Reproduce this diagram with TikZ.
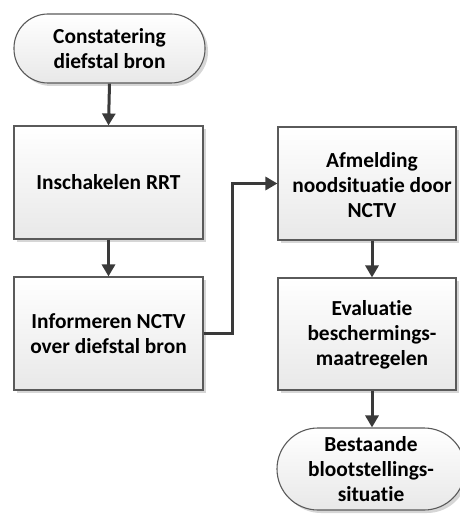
\documentclass[tikz,border=0pt]{standalone}
\usepackage{fontspec}
\setmainfont{Carlito}[Ligatures=NoCommon]
\usetikzlibrary{arrows.meta,shadows,calc}
\definecolor{edgegray}{HTML}{5A5A5A}
\definecolor{flowgray}{HTML}{3A3A3A}
\begin{document}
\begin{tikzpicture}[x=1pt,y=-1pt,
  shapebase/.style={draw=edgegray, line width=1.1pt, top color=white, bottom color=black!9,
    drop shadow={shadow xshift=3pt, shadow yshift=-3pt, fill=black, opacity=0.16}},
  stepbox/.style={shapebase, rectangle, inner sep=0pt},
  terminal/.style={shapebase, rectangle, inner sep=0pt},
  label text/.style={font=\bfseries\fontsize{21.4}{25}\selectfont, align=center, inner sep=0pt, text=black},
  flow/.style={draw=flowgray, line width=3pt, -{Triangle[width=13pt,length=12pt]}}]
\useasboundingbox (0,0) rectangle (459,516);

% left column
\node[terminal, rounded corners=34pt, minimum width=191pt, minimum height=69pt,
      label text] (start) at (109.5,48.5) {Constatering\\diefstal bron};
\node[stepbox, minimum width=189pt, minimum height=113pt, label text] (rrt) at (108.5,182.5) {Inschakelen RRT};
\node[stepbox, minimum width=189pt, minimum height=113pt, label text] (inform) at (108.5,333.5) {Informeren NCTV\\over diefstal bron};

% right column: frames, then their texts
\node[stepbox, minimum width=178pt, minimum height=113pt] (afm) at (367,183.5) {};
\node[label text] (afmt) at (372,185) {Afmelding\\noodsituatie door\\NCTV};
\node[stepbox, minimum width=178pt, minimum height=112pt] (eval) at (367,334) {};
\node[label text] (evalt) at (372,335) {Evaluatie\\beschermings-\\maatregelen};
\node[terminal, rounded corners=41pt, minimum width=188pt, minimum height=82pt] (end) at (371,469) {};
\node[label text] (endt) at (371,469) {Bestaande\\blootstellings-\\situatie};

% connectors
\draw[flow] (start.south) -- (rrt.north);
\draw[flow] (rrt.south) -- (inform.north);
\draw[flow] (inform.east) -- ++(29,0) |- (afm.west);
\draw[flow] (afm.south -| afmt) -- (eval.north -| afmt);
\draw[flow] (eval.south -| evalt) -- (end.north -| evalt);
\end{tikzpicture}
\end{document}
